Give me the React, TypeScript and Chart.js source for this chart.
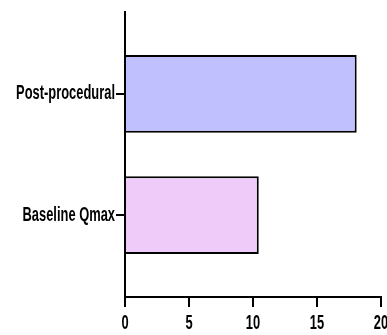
import React, { useEffect, useRef } from "react";
import { Chart, registerables } from "chart.js";

Chart.register(...registerables);

const categories = ["Post-procedural", "Baseline Qmax"];
const values = [18.1, 10.45];
const barColors = ["#C0C0FF", "#EECBF8"];
const xTicks = [0, 5, 10, 15, 20];

const FONT = '"Liberation Sans", Arial, sans-serif';
const NARROW = 0.645;

// Emulates a narrow typeface: each tick label is compressed horizontally around its anchor.
const narrowText = {
  id: "narrowText",
  beforeDraw(chart: any) {
    const ctx = chart.ctx;
    const orig = ctx.rotate;
    ctx.__origRotate = orig;
    ctx.rotate = function (a: number) {
      orig.call(this, a);
      this.scale(NARROW, 1);
    };
  },
  afterDraw(chart: any) {
    const ctx = chart.ctx;
    if (ctx.__origRotate) {
      ctx.rotate = ctx.__origRotate;
      delete ctx.__origRotate;
    }
  },
};

export default function App() {
  const ref = useRef<HTMLCanvasElement | null>(null);

  useEffect(() => {
    if (!ref.current) return;
    const chart = new Chart(ref.current, {
      type: "bar",
      plugins: [narrowText],
      data: {
        datasets: [
          {
            data: categories.map((_, i) => ({ x: values[i], y: i })),
            backgroundColor: barColors,
            borderColor: "#000000",
            borderWidth: 2,
            borderSkipped: "start",
            barPercentage: 0.8,
            categoryPercentage: 0.8,
          },
        ],
      },
      options: {
        indexAxis: "y",
        animation: false,
        responsive: false,
        layout: { padding: { top: 12, right: 6, bottom: 0, left: 0 } },
        plugins: { legend: { display: false }, tooltip: { enabled: false } },
        scales: {
          x: {
            type: "linear",
            min: 0,
            max: 20,
            offset: false,
            afterBuildTicks: (scale: any) => {
              scale.ticks = xTicks.map((v) => ({ value: v }));
            },
            afterFit: (scale: any) => {
              scale.height = 38;
              scale.paddingLeft = 0;
              scale.paddingRight = 0;
            },
            grid: {
              offset: false,
              drawOnChartArea: false,
              drawTicks: true,
              tickLength: 10,
              color: "#000000",
              lineWidth: 2,
            },
            border: { display: true, color: "#000000", width: 2 },
            ticks: {
              color: "#000000",
              padding: 4,
              maxRotation: 0,
              minRotation: 0,
              autoSkip: false,
              font: { family: FONT, size: 20, weight: "bold" },
            },
          },
          y: {
            type: "linear",
            min: -0.675,
            max: 1.675,
            reverse: true,
            offset: false,
            afterBuildTicks: (scale: any) => {
              scale.ticks = categories.map((_, i) => ({ value: i }));
            },
            afterFit: (scale: any) => {
              scale.width = 125;
              scale.paddingTop = 0;
              scale.paddingBottom = 0;
            },
            grid: {
              offset: false,
              drawOnChartArea: false,
              drawTicks: true,
              tickLength: 9,
              color: "#000000",
              lineWidth: 2,
            },
            border: { display: true, color: "#000000", width: 2 },
            ticks: {
              color: "#000000",
              padding: 1,
              autoSkip: false,
              callback: (v: any) => categories[Math.round(Number(v))] ?? "",
              font: { family: FONT, size: 20, weight: "bold" },
            },
          },
        },
      },
    } as any);
    return () => chart.destroy();
  }, []);

  return (
    <div style={{ position: "fixed", left: 0, top: 0, width: 387, height: 335, overflow: "hidden", background: "#fff" }}>
      <canvas ref={ref} width={387} height={335} style={{ display: "block" }} />
    </div>
  );
}
